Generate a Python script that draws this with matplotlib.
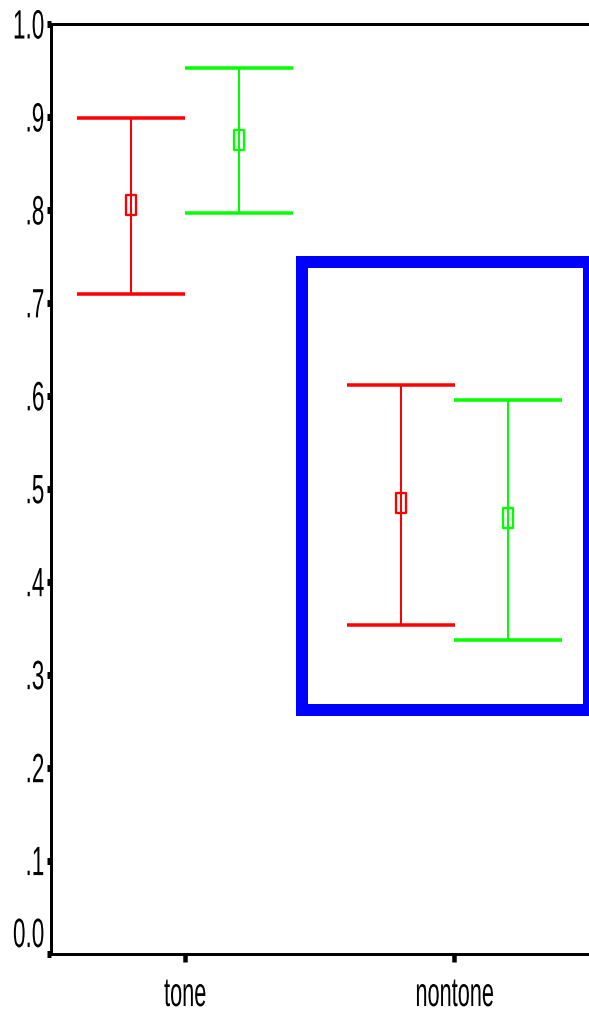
import matplotlib
matplotlib.use("Agg")
import matplotlib.pyplot as plt
from matplotlib.patches import Rectangle
from matplotlib.path import Path
from matplotlib.patheffects import AbstractPathEffect
from matplotlib.transforms import Affine2D
import numpy as np

# ---- data ----
categories = ["tone", "nontone"]
red_mean = [0.805, 0.485]
red_upper = [0.899, 0.612]
red_lower = [0.710, 0.353]
green_mean = [0.875, 0.469]
green_upper = [0.953, 0.596]
green_lower = [0.797, 0.337]
ytick_values = [0.0, 0.1, 0.2, 0.3, 0.4, 0.5, 0.6, 0.7, 0.8, 0.9, 1.0]
ytick_labels = ["0.0", ".1", ".2", ".3", ".4", ".5", ".6", ".7", ".8", ".9", "1.0"]
highlight_x = [0.433, 1.5]
highlight_y = [0.262, 0.744]

DPI = 100
W, H = 589, 1015
px = 72.0 / DPI  # points per pixel

plt.rcParams['font.family'] = ['Liberation Sans', 'DejaVu Sans']

LABEL_FS = 20.0      # layout font size
VISUAL_FS = 29.5     # apparent glyph height of the reference


class Squeeze(AbstractPathEffect):
    """Render text glyphs tall and condensed (narrow SPSS-style font)."""
    def __init__(self, sx, sy, anchor_x="center", anchor_y="center", dy=0.0):
        super().__init__()
        self.sx, self.sy = sx, sy
        self.anchor_x, self.anchor_y = anchor_x, anchor_y
        self.dy = dy  # in points

    def draw_path(self, renderer, gc, tpath, affine, rgbFace=None):
        ext = tpath.get_extents(affine)
        axp = {"right": ext.x1, "left": ext.x0}.get(self.anchor_x, 0.5 * (ext.x0 + ext.x1))
        ayp = {"top": ext.y1, "bottom": ext.y0}.get(self.anchor_y, 0.5 * (ext.y0 + ext.y1))
        shift = renderer.points_to_pixels(self.dy)
        t = affine + Affine2D().translate(-axp, -ayp).scale(self.sx, self.sy) \
            .translate(axp, ayp + shift)
        renderer.draw_path(gc, tpath, t, rgbFace)


fig = plt.figure(figsize=(W / DPI, H / DPI), dpi=DPI)
left_px, right_px, top_px, bottom_px = 50.5, 589, 24, 953.5
ax = fig.add_axes([left_px / W, (H - bottom_px) / H,
                   (right_px - left_px) / W, (bottom_px - top_px) / H])

x = np.arange(len(categories))
offset = 0.2
cap = 54 * px

box_marker = Path([(-0.23, -0.5), (0.23, -0.5), (0.23, 0.5), (-0.23, 0.5), (-0.23, -0.5)],
                  [Path.MOVETO, Path.LINETO, Path.LINETO, Path.LINETO, Path.CLOSEPOLY])

for means, lo, hi, col, dx in [(red_mean, red_lower, red_upper, "#ff0000", -offset),
                               (green_mean, green_lower, green_upper, "#00ff00", offset)]:
    means = np.array(means)
    yerr = [means - np.array(lo), np.array(hi) - means]
    ax.errorbar(x + dx, means, yerr=yerr, fmt="none", ecolor=col,
                elinewidth=2 * px, capsize=cap, capthick=3.5 * px, zorder=3)
    ax.plot(x + dx, means, linestyle="none", marker=box_marker,
            markersize=20 * px, markerfacecolor="none", markeredgecolor=col,
            markeredgewidth=2.3 * px, zorder=4)

rect = Rectangle((highlight_x[0], highlight_y[0]), highlight_x[1] - highlight_x[0],
                 highlight_y[1] - highlight_y[0], fill=False, edgecolor="#0000ff",
                 linewidth=12 * px, joinstyle="miter", clip_on=False, zorder=5)
ax.add_patch(rect)

ax.set_xlim(-0.5, 1.5)
ax.set_ylim(0, 1.0)
ax.set_xticks(x)
ax.set_xticklabels(categories)
ax.set_yticks(ytick_values)
ax.set_yticklabels(ytick_labels)

for side in ["left", "bottom", "top"]:
    ax.spines[side].set_linewidth(3 * px)
    ax.spines[side].set_color("black")
ax.spines["right"].set_visible(False)

ax.tick_params(axis="y", direction="out", length=4 * px, width=7 * px,
               labelsize=LABEL_FS, pad=2 * px, colors="black")
ax.tick_params(axis="x", direction="out", length=8 * px, width=4.5 * px,
               labelsize=LABEL_FS, pad=16 * px, colors="black")

k = VISUAL_FS / LABEL_FS
for i, lab in enumerate(ax.get_yticklabels()):
    dy = 21 * px if i == 0 else 0.0   # "0.0" sits raised above the x axis
    lab.set_path_effects([Squeeze(0.55 * k, k, "right", "center", dy=dy)])
for lab in ax.get_xticklabels():
    lab.set_path_effects([Squeeze(0.53 * k, k, "center", "top")])

fig.savefig("out.png", dpi=DPI, facecolor="white")
